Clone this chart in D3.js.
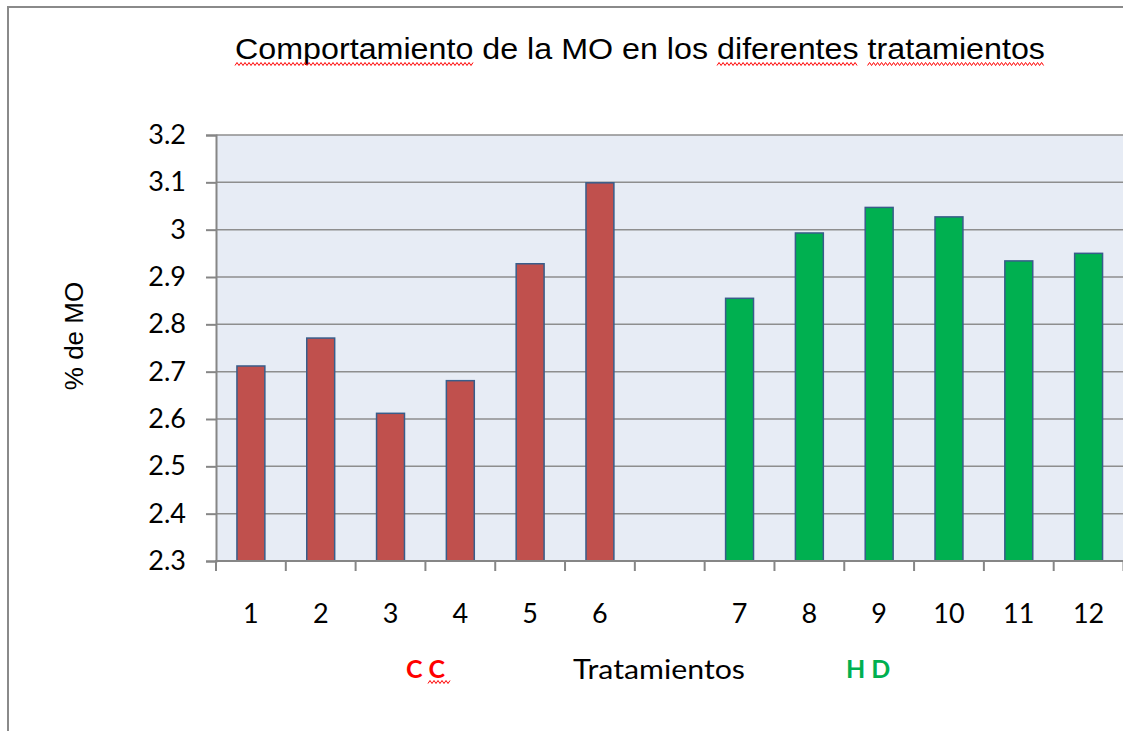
<!DOCTYPE html>
<html>
<head>
<meta charset="utf-8">
<script src="https://cdn.jsdelivr.net/npm/d3@7"></script>
<style>
  html, body { margin: 0; padding: 0; background: #fff; }
  svg { display: block; }
</style>
</head>
<body>
<svg id="chart" width="1123" height="731"></svg>
<script>
// data
const categories = ["1", "2", "3", "4", "5", "6", "", "7", "8", "9", "10", "11", "12"];
const moValues = [2.712, 2.771, 2.612, 2.681, 2.928, 3.099, null, 2.855, 2.993, 3.047, 3.027, 2.934, 2.950];
const groupOf = ["CC", "CC", "CC", "CC", "CC", "CC", null, "HD", "HD", "HD", "HD", "HD", "HD"];
const yTicks = [2.3, 2.4, 2.5, 2.6, 2.7, 2.8, 2.9, 3.0, 3.1, 3.2];
const groupColors = { CC: "#C0504D", HD: "#00B050" };
const titleText = "Comportamiento de la MO en los diferentes tratamientos";
const flaggedWords = ["Comportamiento", "diferentes", "tratamientos"];

const svg = d3.select("#chart");
const W = 1123, H = 731;
const plot = { left: 216, right: 1123.5, top: 135, bottom: 561 };

// outer frame
svg.append("path")
  .attr("d", "M8," + H + " V7 H" + W)
  .attr("fill", "none")
  .attr("stroke", "#8a8a8a")
  .attr("stroke-width", 2);

const x = d3.scaleBand()
  .domain(d3.range(categories.length))
  .range([plot.left, plot.right])
  .paddingInner(0.6)
  .paddingOuter(0.3);

const y = d3.scaleLinear()
  .domain([2.3, 3.2])
  .range([plot.bottom, plot.top]);

const step = x.step();

// plot background
svg.append("rect")
  .attr("x", plot.left)
  .attr("y", y(3.2))
  .attr("width", plot.right - plot.left)
  .attr("height", y(2.3) - y(3.2))
  .attr("fill", "#E7ECF5");

// grid lines
svg.append("g")
  .selectAll("line")
  .data(yTicks.slice(1))
  .join("line")
    .attr("x1", plot.left)
    .attr("x2", plot.right)
    .attr("y1", d => y(d))
    .attr("y2", d => y(d))
    .attr("stroke", "#8e8e8e")
    .attr("stroke-width", 1.5);

// y axis
const yAxis = d3.axisLeft(y)
  .tickValues(yTicks)
  .tickFormat(d => d3.format("")(+d.toFixed(1)))
  .tickSize(10)
  .tickPadding(20);

const gy = svg.append("g")
  .attr("transform", "translate(" + plot.left + ",0)")
  .call(yAxis);
gy.select(".domain").attr("stroke", "#868686").attr("stroke-width", 2);
gy.selectAll(".tick line").attr("stroke", "#868686").attr("stroke-width", 2);
gy.selectAll(".tick text")
  .attr("font-family", "Lato, 'Open Sans', sans-serif")
  .attr("font-size", 27)
  .attr("fill", "#000");

// bars
const bars = categories.map((c, i) => ({ i, v: moValues[i], g: groupOf[i] }))
  .filter(d => d.v != null);

svg.append("g")
  .selectAll("rect")
  .data(bars)
  .join("rect")
    .attr("x", d => x(d.i))
    .attr("y", d => y(d.v))
    .attr("width", x.bandwidth())
    .attr("height", d => y(2.3) - y(d.v))
    .attr("fill", d => groupColors[d.g])
    .attr("stroke", "#385D8A")
    .attr("stroke-width", 1.5);

// x axis: ticks between categories
const boundaries = d3.range(categories.length + 1)
  .map(k => plot.left + k * step);

const gx = svg.append("g");
gx.append("line")
  .attr("x1", plot.left - 1)
  .attr("x2", plot.right)
  .attr("y1", y(2.3))
  .attr("y2", y(2.3))
  .attr("stroke", "#868686")
  .attr("stroke-width", 2);
gx.selectAll("line.tick")
  .data(boundaries)
  .join("line")
    .attr("class", "tick")
    .attr("x1", d => d)
    .attr("x2", d => d)
    .attr("y1", y(2.3))
    .attr("y2", y(2.3) + 10)
    .attr("stroke", "#868686")
    .attr("stroke-width", 2);
gx.selectAll("text")
  .data(categories)
  .join("text")
    .attr("x", (d, i) => x(i) + x.bandwidth() / 2)
    .attr("y", 623)
    .attr("text-anchor", "middle")
    .attr("font-family", "Lato, 'Open Sans', sans-serif")
    .attr("font-size", 27)
    .attr("fill", "#000")
    .text(d => d);

// axis titles
svg.append("text")
  .attr("x", 659)
  .attr("y", 679)
  .attr("text-anchor", "middle")
  .attr("font-family", "Lato, 'Open Sans', sans-serif")
  .attr("font-size", 27)
  .attr("textLength", 172)
  .attr("lengthAdjust", "spacingAndGlyphs")
  .text("Tratamientos");

svg.append("text")
  .attr("transform", "translate(83,336) rotate(-90)")
  .attr("text-anchor", "middle")
  .attr("font-family", "'Liberation Sans', Arial, sans-serif")
  .attr("font-size", 26)
  .text("% de MO");

// group labels
const groupLabels = [
  { text: "C C", x: 406, color: "#FF0000" },
  { text: "H D", x: 846, color: "#00B050" }
];
svg.selectAll("text.group")
  .data(groupLabels)
  .join("text")
    .attr("class", "group")
    .attr("x", d => d.x)
    .attr("y", 678)
    .attr("font-family", "Lato, 'Open Sans', sans-serif")
    .attr("font-weight", "bold")
    .attr("font-size", 25)
    .attr("fill", d => d.color)
    .text(d => d.text);

// title
const titleX = 235, titleW = 810, titleY = 59;
const measure = svg.append("text")
  .attr("font-family", "'Liberation Sans', Arial, sans-serif")
  .attr("font-size", 29)
  .text(titleText);
const natural = measure.node().getComputedTextLength();
const wordSpans = flaggedWords.map(w => {
  const s = titleText.indexOf(w);
  const a = measure.node().getSubStringLength(0, s);
  const b = measure.node().getSubStringLength(0, s + w.length);
  return [titleX + a * titleW / natural, titleX + b * titleW / natural];
});
measure.remove();

svg.append("text")
  .attr("x", titleX)
  .attr("y", titleY)
  .attr("font-family", "'Liberation Sans', Arial, sans-serif")
  .attr("font-size", 29)
  .attr("textLength", titleW)
  .attr("lengthAdjust", "spacingAndGlyphs")
  .text(titleText);

// spell-check squiggles
function squiggle(x0, x1, yy) {
  const pts = [];
  for (let px = x0, k = 0; px <= x1; px += 2, k++) {
    pts.push([px, yy + (k % 2 ? -1.5 : 1.5)]);
  }
  return d3.line()(pts);
}
const squiggles = wordSpans.map(s => ({ x0: s[0], x1: s[1], y: 64 }))
  .concat([{ x0: 428, x1: 451, y: 682 }]);
svg.selectAll("path.sq")
  .data(squiggles)
  .join("path")
    .attr("class", "sq")
    .attr("d", d => squiggle(d.x0, d.x1, d.y))
    .attr("fill", "none")
    .attr("stroke", "#FF0000")
    .attr("stroke-width", 1);
</script>
</body>
</html>
